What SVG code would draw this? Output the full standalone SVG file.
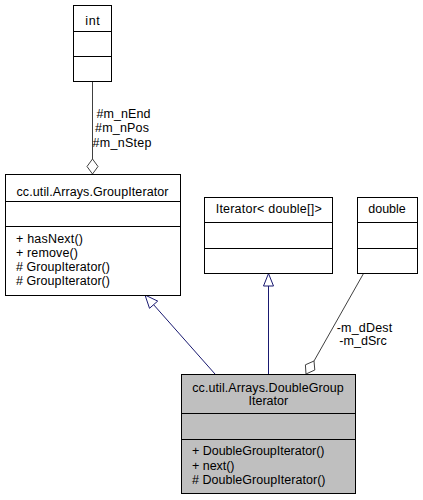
<svg xmlns="http://www.w3.org/2000/svg" width="423" height="500" viewBox="0 0 423 500">
<style>
text{font-family:"Liberation Sans",Arial,sans-serif;font-size:12.5px;fill:#000}
.c{text-anchor:middle}
.box{fill:#fff;stroke:#000;stroke-width:1}
.cur{fill:#bfbfbf;stroke:#000;stroke-width:1}
.div{stroke:#000;stroke-width:1}
.gen{stroke:#191970;stroke-width:1;fill:none}
.genh{stroke:#191970;stroke-width:1;fill:#fff}
.agg{stroke:#404040;stroke-width:1;fill:none}
.aggh{stroke:#404040;stroke-width:1;fill:#fff}
</style>
<rect width="423" height="500" fill="#fff"/>
<g id="connectors">
<path class="agg" d="M92.5,81.5 L92.5,159"/>
<polygon class="aggh" points="92.5,174 87,166.5 92.5,159 98,166.5"/>
<text class="c" x="123.5" y="117.5" textLength="54">#m_nEnd</text>
<text class="c" x="122" y="132" textLength="54">#m_nPos</text>
<text class="c" x="122" y="146.5" textLength="59">#m_nStep</text>
<path class="gen" d="M215,374 L153.6,304.7"/>
<polygon class="genh" points="145,295 157.7,301.1 149.5,308.3"/>
<path class="gen" d="M268.5,374 L268.5,286"/>
<polygon class="genh" points="268.5,273.5 263.5,286 273.5,286"/>
<path class="agg" d="M363.5,273.5 L314,361"/>
<polygon class="aggh" points="314,361 314.8,370 306,374 305.4,364.8"/>
<text class="c" x="364.5" y="331.5" textLength="55.5">-m_dDest</text>
<text class="c" x="363" y="344.5" textLength="47.5">-m_dSrc</text>
</g>
<g id="node-int">
<rect class="box" x="73.5" y="5.5" width="38" height="76"/>
<path class="div" d="M73.5,31.5 H111.5 M73.5,56.5 H111.5"/>
<text class="c" x="92.5" y="25" textLength="14.5">int</text>
</g>
<g id="node-GroupIterator">
<rect class="box" x="5.5" y="174.5" width="175" height="121"/>
<path class="div" d="M5.5,201.5 H180.5 M5.5,226.5 H180.5"/>
<text class="c" x="92.5" y="196" textLength="152">cc.util.Arrays.GroupIterator</text>
<text x="16" y="242.5" textLength="67">+ hasNext()</text>
<text x="16" y="256.5" textLength="62">+ remove()</text>
<text x="16" y="271" textLength="94"># GroupIterator()</text>
<text x="16" y="285" textLength="94"># GroupIterator()</text>
</g>
<g id="node-Iterator">
<rect class="box" x="204.5" y="197.5" width="128" height="76"/>
<path class="div" d="M204.5,222.5 H332.5 M204.5,248.5 H332.5"/>
<text class="c" x="268.7" y="213" textLength="106">Iterator&lt; double[]&gt;</text>
</g>
<g id="node-double">
<rect class="box" x="357.5" y="197.5" width="60" height="76"/>
<path class="div" d="M357.5,222.5 H417.5 M357.5,248.5 H417.5"/>
<text class="c" x="387" y="213" textLength="37.5">double</text>
</g>
<g id="node-DoubleGroupIterator">
<rect class="cur" x="181.5" y="374.5" width="174" height="119"/>
<path class="div" d="M181.5,413.5 H355.5 M181.5,439.5 H355.5"/>
<text class="c" x="268" y="392" textLength="151.5">cc.util.Arrays.DoubleGroup</text>
<text class="c" x="268.3" y="405" textLength="39.5">Iterator</text>
<text x="192" y="455" textLength="132.5">+ DoubleGroupIterator()</text>
<text x="192" y="469.5" textLength="42.5">+ next()</text>
<text x="192" y="483.5" textLength="133.5"># DoubleGroupIterator()</text>
</g>
</svg>
